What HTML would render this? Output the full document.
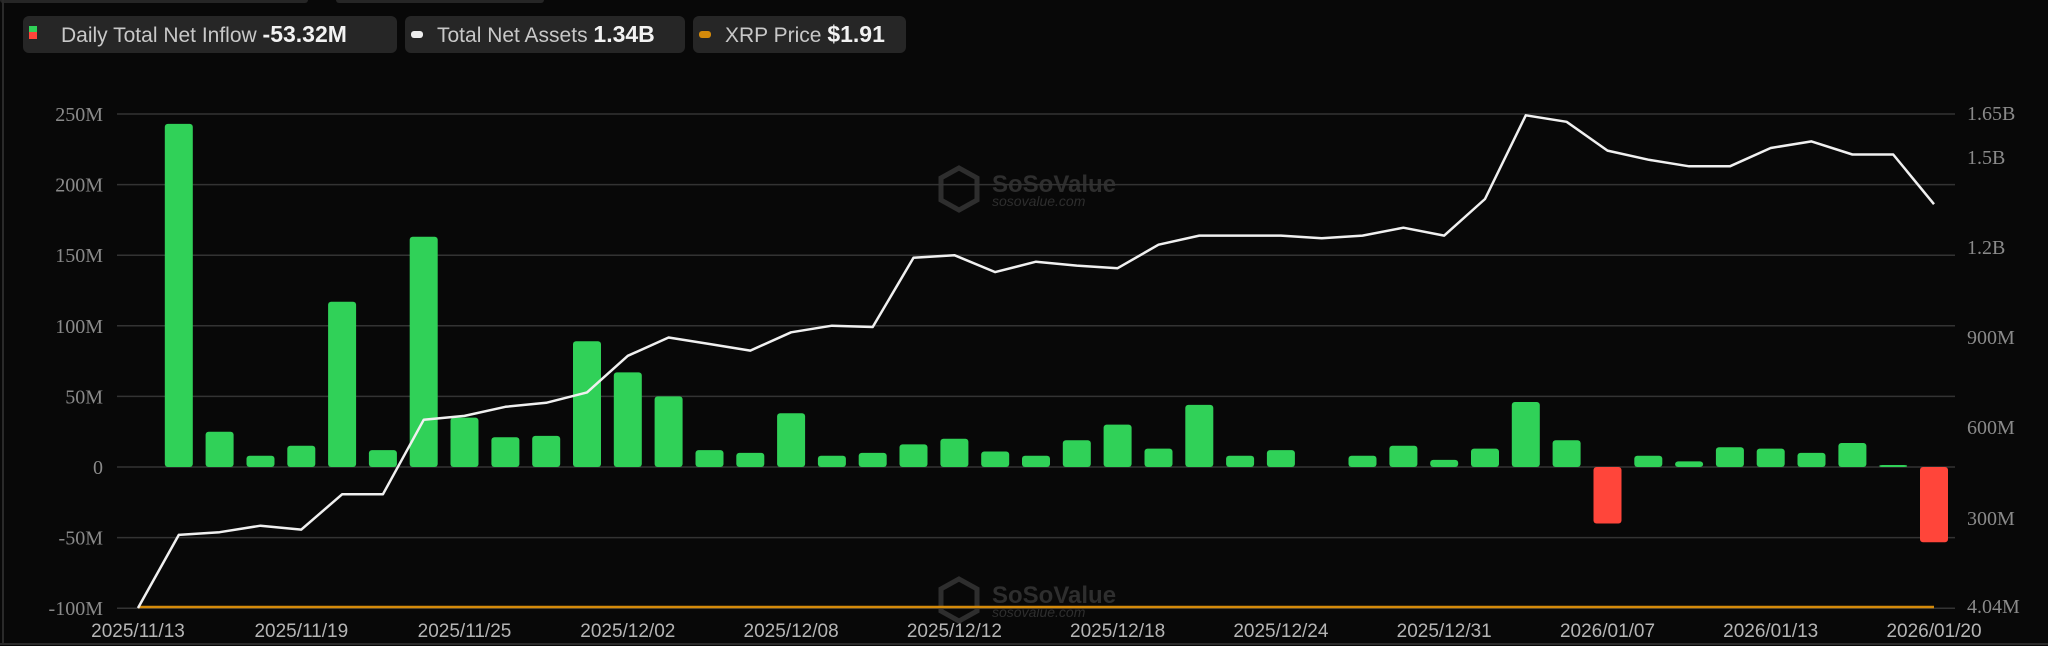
<!DOCTYPE html>
<html><head><meta charset="utf-8">
<style>
html,body{margin:0;padding:0;background:#080808;width:2048px;height:646px;overflow:hidden}
.box{position:absolute;top:16px;height:37px;background:#262626;border-radius:6px;color:#c8c8c8;font-family:"Liberation Sans",sans-serif;font-size:21px;line-height:37px;white-space:nowrap}
.box b{color:#f2f2f2;font-size:23px}
</style></head><body>
<div style="position:absolute;left:0;top:0;width:308px;height:3px;background:#262626;border-radius:0 0 5px 5px"></div>
<div style="position:absolute;left:336px;top:0;width:208px;height:3px;background:#262626;border-radius:0 0 5px 5px"></div>
<div class="box" style="left:23px;width:374px">
 <span style="position:absolute;left:6px;top:10px;width:8px;height:6px;background:#30d158"></span>
 <span style="position:absolute;left:6px;top:16px;width:8px;height:7px;background:#ff453a"></span>
 <span style="position:absolute;left:38px">Daily Total Net Inflow <b>-53.32M</b></span></div>
<div class="box" style="left:405px;width:280px">
 <span style="position:absolute;left:6px;top:15px;width:12px;height:7px;background:#eee;border-radius:3px"></span>
 <span style="position:absolute;left:32px">Total Net Assets <b>1.34B</b></span></div>
<div class="box" style="left:693px;width:213px">
 <span style="position:absolute;left:6px;top:15px;width:12px;height:7px;background:#d48a0a;border-radius:3px"></span>
 <span style="position:absolute;left:32px">XRP Price <b>$1.91</b></span></div>
<svg id="s" width="2048" height="646" style="position:absolute;left:0;top:0" xmlns="http://www.w3.org/2000/svg">
<line x1="3" y1="0" x2="3" y2="644" stroke="#2a2a2a" stroke-width="2"/>
<line x1="0" y1="644" x2="2048" y2="644" stroke="#2a2a2a" stroke-width="2"/>
<g id="wm1" fill="#2e2e2e">
 <polygon points="959,168 977,178 977,200 959,210 941,200 941,178" fill="none" stroke="#2e2e2e" stroke-width="5"/>
 <text x="992" y="192" font-family="Liberation Sans,sans-serif" font-size="24" font-weight="bold">SoSoValue</text>
 <text x="992" y="206" font-family="Liberation Sans,sans-serif" font-size="14" font-style="italic">sosovalue.com</text>
</g>
<g id="g"></g>
<g fill="#2e2e2e">
 <polygon points="959,579 977,589 977,611 959,621 941,611 941,589" fill="none" stroke="#2e2e2e" stroke-width="5"/>
 <text x="992" y="603" font-family="Liberation Sans,sans-serif" font-size="24" font-weight="bold">SoSoValue</text>
 <text x="992" y="617" font-family="Liberation Sans,sans-serif" font-size="14" font-style="italic">sosovalue.com</text>
</g>
<g id="g2"></g>
</svg>
<script>
var h='';
var gl=['250M','200M','150M','100M','50M','0','-50M','-100M'];
for(var i=0;i<8;i++){var gy=114+70.6*i;h+='<line x1="117" x2="1955" y1="'+gy+'" y2="'+gy+'" stroke="#333" stroke-width="1.5"/>';
h+='<text x="103" y="'+(gy+7)+'" text-anchor="end" fill="#8a8a8a" font-family="Liberation Serif,serif" font-size="20">'+gl[i]+'</text>';}
var rl=[['1.65B',113],['1.5B',157],['1.2B',247],['900M',337],['600M',427],['300M',518],['4.04M',606]];
rl.forEach(function(r){h+='<text x="1967" y="'+(r[1]+7)+'" fill="#8a8a8a" font-family="Liberation Serif,serif" font-size="20">'+r[0]+'</text>';});
var x0=138,dx=(1934-138)/44;
var v=[null,243,25,8,15,117,12,163,35,21,22,89,67,50,12,10,38,8,10,16,20,11,8,19,30,13,44,8,12,null,8,15,5,13,46,19,-40,8,4,14,13,10,17,1,-53.32];
var z=467,k=70.6/50;
for(var i=0;i<45;i++){if(v[i]==null)continue;var x=x0+i*dx-14,hh=Math.max(Math.abs(v[i])*k,2),y=v[i]>=0?z-hh:z;
h+='<rect x="'+x.toFixed(1)+'" y="'+y.toFixed(1)+'" width="28" height="'+hh.toFixed(1)+'" rx="3" fill="'+(v[i]>=0?'#30d158':'#ff453a')+'"/>';}
document.getElementById('g').innerHTML=h;h='';
var d=[465,409,407,402,405,378,378,321,318,311,308,300,272,258,263,268,254,249,250,197,195,208,200,203,205,187,180,180,180,182,180,174,180,152,88,93,115,122,127,127,113,108,118,118,156];
var p=d.map(function(t,i){return (x0+i*dx).toFixed(1)+','+(114+(t-87)*1.307).toFixed(1)}).join(' ');
h+='<line x1="'+x0+'" x2="1934" y1="607" y2="607" stroke="#d48a0a" stroke-width="2.5"/>';
h+='<polyline points="'+p+'" fill="none" stroke="#f0f0f0" stroke-width="2.5" stroke-linejoin="round"/>';
var lb=['2025/11/13','2025/11/19','2025/11/25','2025/12/02','2025/12/08','2025/12/12','2025/12/18','2025/12/24','2025/12/31','2026/01/07','2026/01/13','2026/01/20'];
lb.forEach(function(l,j){h+='<text x="'+(x0+j*4*dx).toFixed(1)+'" y="637" text-anchor="middle" fill="#b5b5b5" font-family="Liberation Sans,sans-serif" font-size="19">'+l+'</text>';});
document.getElementById('g2').innerHTML=h;
</script>
</body></html>
